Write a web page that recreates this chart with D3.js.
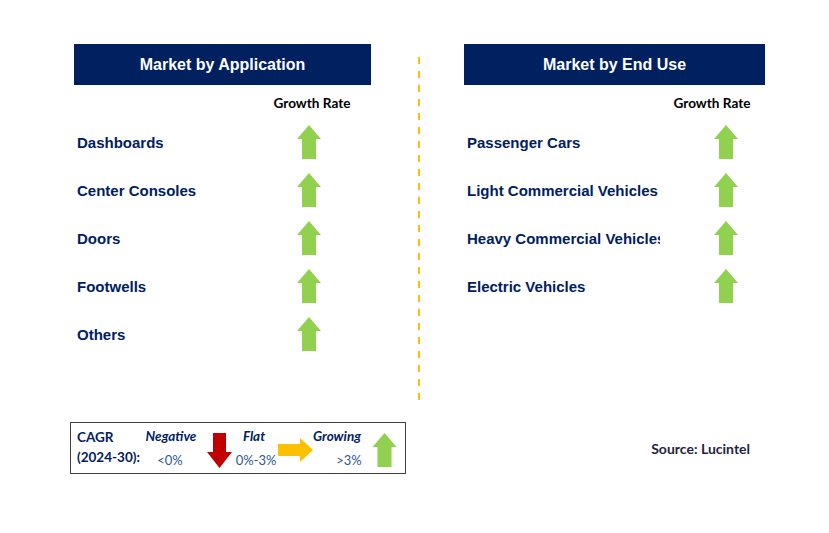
<!DOCTYPE html>
<html>
<head>
<meta charset="utf-8">
<script src="https://cdn.jsdelivr.net/npm/d3@7"></script>
<style>
  body { margin: 0; background: #fff; }
  svg { display: block; }
</style>
</head>
<body>
<svg id="chart" width="829" height="533"></svg>
<script>
// data
const applications = ["Dashboards", "Center Consoles", "Doors", "Footwells", "Others"];
const applicationGrowth = ["growing", "growing", "growing", "growing", "growing"];
const endUses = ["Passenger Cars", "Light Commercial Vehicles", "Heavy Commercial Vehicles", "Electric Vehicles"];
const endUseGrowth = ["growing", "growing", "growing", "growing"];
const panelTitles = ["Market by Application", "Market by End Use"];
const legendLabels = ["Negative", "Flat", "Growing"];
const legendRanges = ["<0%", "0%-3%", ">3%"];

const navy = "#002060";
const svg = d3.select("#chart");

// row positions, same spacing on both sides
const yRow = d3.scaleBand()
    .domain(d3.range(5))
    .range([118, 358]);

function upArrow(g, cx, top, color) {
    // arrow 24 wide, 34 tall
    const p = [[cx, top], [cx + 12, top + 14], [cx + 7, top + 14], [cx + 7, top + 34],
               [cx - 7, top + 34], [cx - 7, top + 14], [cx - 12, top + 14]];
    g.append("polygon").attr("points", p.join(" ")).attr("fill", color);
}

function panel(x, w, title, cats, growth, arrowX, headX, clipW) {
    const g = svg.append("g");
    g.append("rect").attr("x", x).attr("y", 44).attr("width", w).attr("height", 41).attr("fill", navy);
    g.append("text").attr("x", x + w / 2).attr("y", 70)
        .attr("text-anchor", "middle").attr("fill", "#fff")
        .attr("font-family", "Liberation Sans, Arial").attr("font-weight", "bold").attr("font-size", 16)
        .text(title);
    g.append("text").attr("x", headX).attr("y", 108)
        .attr("text-anchor", "middle").attr("fill", "#000")
        .attr("font-family", "Lato, sans-serif").attr("font-weight", "bold").attr("font-size", 13.6)
        .text("Growth Rate");

    const clipId = "clip" + x;
    g.append("clipPath").attr("id", clipId)
        .append("rect").attr("x", x).attr("y", 100).attr("width", clipW).attr("height", 300);

    g.selectAll(".cat").data(cats).enter().append("text")
        .attr("x", x + 3)
        .attr("y", (d, i) => yRow(i) + yRow.bandwidth() / 2 + 6)
        .attr("fill", navy)
        .attr("font-family", "Liberation Sans, Arial").attr("font-weight", "bold").attr("font-size", 15)
        .attr("clip-path", "url(#" + clipId + ")")
        .text(d => d);

    growth.forEach((gr, i) => {
        upArrow(g, arrowX, yRow(i) + 7, "#92D050");
    });
}

panel(74, 297, panelTitles[0], applications, applicationGrowth, 309, 312, 300);
panel(464, 301, panelTitles[1], endUses, endUseGrowth, 726, 712, 196);

// dashed divider
svg.append("line").attr("x1", 419).attr("x2", 419).attr("y1", 57).attr("y2", 402)
    .attr("stroke", "#FFC000").attr("stroke-width", 2).attr("stroke-dasharray", "7,7");

// legend
const lg = svg.append("g");
lg.append("rect").attr("x", 70.5).attr("y", 422.5).attr("width", 335).attr("height", 51)
    .attr("fill", "none").attr("stroke", "#404040").attr("stroke-width", 1);
lg.append("text").attr("x", 77).attr("y", 442).attr("fill", navy)
    .attr("font-family", "Lato, sans-serif").attr("font-weight", "bold").attr("font-size", 13.5).text("CAGR");
lg.append("text").attr("x", 77).attr("y", 462).attr("fill", navy)
    .attr("font-family", "Lato, sans-serif").attr("font-weight", "bold").attr("font-size", 13.5).text("(2024-30):");

const legendX = [171, 254, 337];
const rangeX = [170, 256, 349];
legendLabels.forEach((t, i) => {
    lg.append("text").attr("x", legendX[i]).attr("y", 441).attr("text-anchor", "middle")
        .attr("fill", navy).attr("font-family", "Lato, sans-serif").attr("font-weight", "bold")
        .attr("font-style", "italic").attr("font-size", 13.5).text(t);
    lg.append("text").attr("x", rangeX[i]).attr("y", 465).attr("text-anchor", "middle")
        .attr("fill", "#2F5597").attr("font-family", "Lato, sans-serif").attr("font-size", 13).text(legendRanges[i]);
});

// red down arrow
lg.append("polygon").attr("fill", "#C00000").attr("points",
    [[213, 433], [226, 433], [226, 452], [232, 452], [219.5, 468], [207, 452], [213, 452]].join(" "));
// yellow right arrow
lg.append("polygon").attr("fill", "#FFC000").attr("points",
    [[278, 444], [300, 444], [300, 438], [313, 450], [300, 462], [300, 456], [278, 456]].join(" "));
// green up arrow
upArrow(lg, 384.5, 433, "#92D050");

svg.append("text").attr("x", 750).attr("y", 454).attr("text-anchor", "end")
    .attr("fill", "#1F1F3F").attr("font-family", "Lato, sans-serif").attr("font-weight", "bold")
    .attr("font-size", 14).text("Source: Lucintel");
</script>
</body>
</html>
